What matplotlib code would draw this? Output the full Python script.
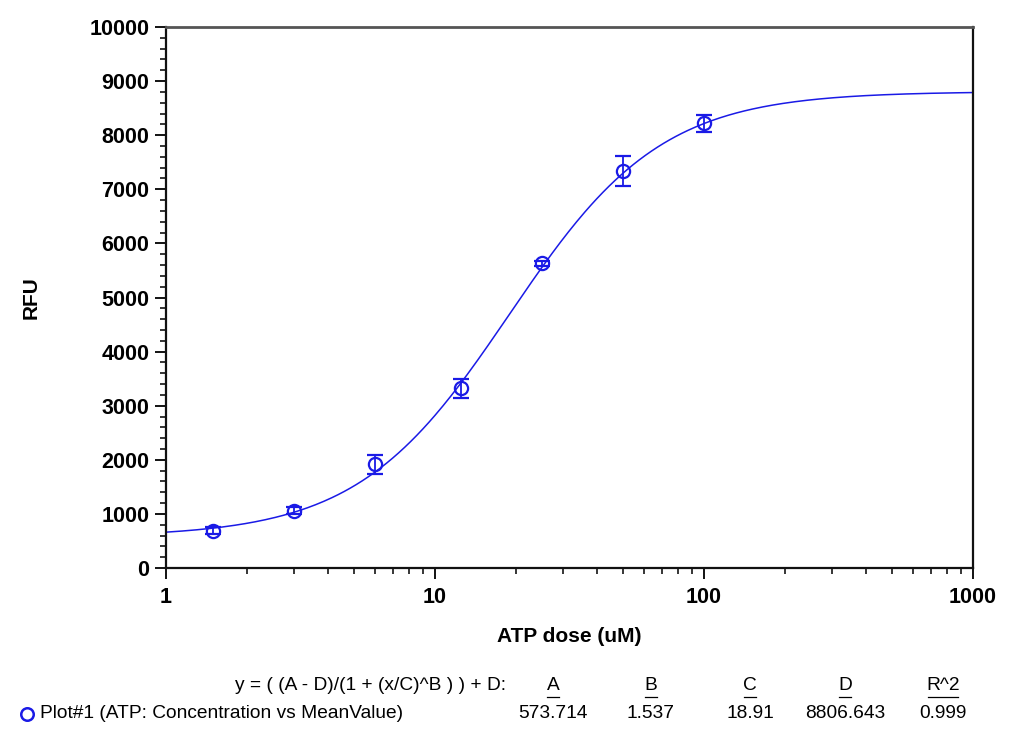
import numpy as np
import matplotlib.pyplot as plt
from matplotlib.lines import Line2D
from matplotlib.ticker import MultipleLocator, LogLocator, NullFormatter, FixedLocator, FixedFormatter

plt.rcParams['font.family'] = ['Liberation Sans', 'DejaVu Sans']

# data
dose = [1.5, 3, 6, 12.5, 25, 50, 100]
rfu = [690, 1060, 1915, 3320, 5630, 7335, 8220]
rfu_err = [60, 70, 180, 180, 50, 280, 160]

# 4PL fit parameters shown under the chart
fit_a = 573.714
fit_b = 1.537
fit_c = 18.91
fit_d = 8806.643
fit_r2 = 0.999

col_names = ['A', 'B', 'C', 'D', 'R^2']
col_values = ['573.714', '1.537', '18.91', '8806.643', '0.999']

blue = '#1a1ae6'

fig = plt.figure(figsize=(10.2, 7.54), dpi=100)
ax = fig.add_axes([166 / 1020, 1 - 568 / 754, (973 - 166) / 1020, (568 - 27) / 754])

# fitted curve from the displayed parameters
xs = np.logspace(0, 3, 400)
ys = (fit_a - fit_d) / (1 + (xs / fit_c) ** fit_b) + fit_d
ax.plot(xs, ys, color=blue, lw=1.1, zorder=2)

ax.errorbar(dose, rfu, yerr=rfu_err, fmt='o', mfc='none', mec=blue, ecolor=blue,
            ms=9.5, mew=1.6, elinewidth=1.3, capsize=5.5, capthick=1.3, zorder=3)

ax.set_xscale('log')
ax.set_xlim(1, 1000)
ax.set_ylim(0, 10000)
ax.xaxis.set_major_locator(FixedLocator([1, 10, 100, 1000]))
ax.xaxis.set_major_formatter(FixedFormatter(['1', '10', '100', '1000']))
ax.xaxis.set_minor_locator(LogLocator(base=10, subs=np.arange(2, 10)))
ax.xaxis.set_minor_formatter(NullFormatter())
ax.yaxis.set_major_locator(MultipleLocator(1000))
ax.yaxis.set_minor_locator(MultipleLocator(200))

ax.tick_params(which='major', direction='out', length=8, width=1.3, labelsize=15.5, pad=4)
ax.tick_params(axis='x', which='major', pad=6)
ax.tick_params(which='minor', direction='out', length=4.5, width=1.1)
for lab in ax.get_xticklabels() + ax.get_yticklabels():
    lab.set_fontweight('bold')

for side in ['left', 'bottom', 'right']:
    ax.spines[side].set_linewidth(1.6)
    ax.spines[side].set_color('#111111')
ax.spines['top'].set_linewidth(2.0)
ax.spines['top'].set_color('#555555')

ax.set_xlabel('ATP dose (uM)', fontsize=15, fontweight='bold')
ax.set_ylabel('RFU', fontsize=15, fontweight='bold')
ax.xaxis.set_label_coords(0.5, -(637 - 568) / 541)
ax.yaxis.set_label_coords(-(166 - 31) / 807, 0.5)
ax.xaxis.label.set_va('center')
ax.yaxis.label.set_va('center')

# fit summary below the plot
def fx(px):
    return px / 1020

def fy(py):
    return 1 - py / 754

fs = 13.8
fig.text(fx(506), fy(686), 'y = ( (A - D)/(1 + (x/C)^B ) ) + D:', ha='right', va='center', fontsize=fs)
col_x = [553, 651, 750, 845, 943]
for name, val, cx in zip(col_names, col_values, col_x):
    fig.text(fx(cx), fy(686), name, ha='center', va='center', fontsize=fs)
    w = 6 if len(name) == 1 else 15
    fig.add_artist(Line2D([fx(cx - w), fx(cx + w)], [fy(697), fy(697)], color='black', lw=0.9))
    fig.text(fx(cx), fy(714), val, ha='center', va='center', fontsize=fs)

fig.add_artist(Line2D([fx(27)], [fy(714)], marker='o', ms=9, mfc='none', mec=blue, mew=1.8))
fig.text(fx(40), fy(714), 'Plot#1 (ATP: Concentration vs MeanValue)', ha='left', va='center', fontsize=fs)

fig.savefig('out.png', dpi=100)
